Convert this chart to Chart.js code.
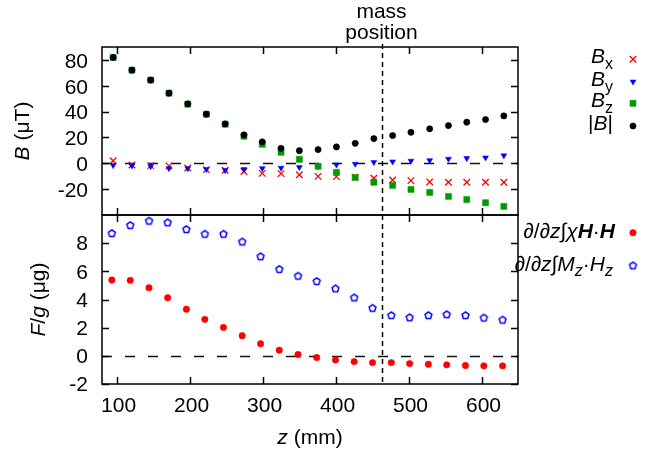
<!DOCTYPE html>
<html><head><meta charset="utf-8">
<script src="https://cdn.jsdelivr.net/npm/chart.js@4"></script>
<style>html,body{margin:0;padding:0;background:#fff;}#wrap{position:relative;width:651px;height:450px;}</style>
</head><body><div id="wrap"><canvas id="c" width="651" height="450"></canvas></div>
<script>
// ---- data ----
const zTop = [95.3, 121, 146.7, 171.8, 197.5, 223, 248.8, 274.5, 299.6, 325.3, 350.4, 376.1, 401.2, 426.9, 452.5, 478.2, 503.3, 529, 554.7, 579.8, 605.5, 630.6];
const Bx   = [2, -1.3, -1.8, -2.0, -3.6, -4.9, -5.4, -6.4, -7.8, -8.0, -8.8, -10.1, -10.3, -10.9, -11.6, -12.9, -13.4, -14.4, -14.7, -14.7, -14.7, -14.7];
const By   = [-1.5, -1.8, -2.3, -3.9, -3.9, -4.6, -5.4, -4.6, -3.9, -3.6, -3.1, -2.2, -1.0, -0.5, 0.8, 1.3, 1.9, 2.3, 3.4, 3.9, 4.4, 6.0];
const Bz   = [81.9, 72.1, 64.4, 54.3, 45.7, 38.0, 30.2, 20.9, 14.7, 8.5, 3.1, -2.3, -7.0, -10.9, -14.7, -17.1, -20.2, -22.5, -25.6, -28.1, -30.5, -33.3];
const Bmag = [81.9, 72.1, 64.4, 54.3, 46.0, 38.0, 30.5, 22.0, 16.6, 11.6, 9.8, 10.6, 12.7, 15.5, 19.1, 21.5, 24.0, 26.7, 29.2, 31.8, 33.9, 36.7];
const zBot = [93.5, 118.7, 144.4, 170, 195.6, 220.9, 246.4, 272.1, 297.3, 322.9, 348.6, 374.2, 399.9, 425.5, 450.7, 476.4, 501.5, 527.2, 552.3, 578, 603.2, 628.9];
const Fchi = [5.38, 5.36, 4.83, 4.12, 3.31, 2.59, 2.02, 1.43, 0.86, 0.40, 0.09, -0.12, -0.29, -0.41, -0.48, -0.48, -0.55, -0.60, -0.64, -0.69, -0.71, -0.71];
const FMH  = [8.69, 9.26, 9.57, 9.45, 8.97, 8.64, 8.64, 8.09, 7.04, 6.14, 5.66, 5.28, 4.76, 4.12, 3.38, 2.86, 2.71, 2.86, 2.93, 2.86, 2.69, 2.54];
const massPosition = 463;
const xTicks = [100, 200, 300, 400, 500, 600];
const yTopTicks = [-20, 0, 20, 40, 60, 80];
const yBotTicks = [-2, 0, 2, 4, 6, 8];
const xRange = [80, 650], yTopRange = [-40, 90], yBotRange = [-2, 10];
const massLabel = ['mass', 'position'];

const FONT = "'Liberation Sans', Arial, Helvetica, sans-serif";
const RED = '#ff0000', BLUE = '#0000ff', GREEN = '#009a00', BLACK = '#000000';

function pentagon(color, r, lw) {
  const s = Math.ceil(2 * r + 2 * lw + 2);
  const c = document.createElement('canvas'); c.width = s; c.height = s;
  const g = c.getContext('2d');
  g.strokeStyle = color; g.lineWidth = lw;
  g.beginPath();
  for (let k = 0; k < 5; k++) {
    const a = -Math.PI / 2 + k * 2 * Math.PI / 5;
    const px = s / 2 + r * Math.cos(a), py = s / 2 + r * Math.sin(a);
    if (k) g.lineTo(px, py); else g.moveTo(px, py);
  }
  g.closePath(); g.stroke();
  return c;
}
const pentImg = pentagon(BLUE, 3.6, 1.5);

const pts = (xs, ys) => xs.map((x, i) => ({x, y: ys[i]}));

const styles = {
  Bx:   {pointStyle: 'crossRot', radius: 4.6, rotation: 0, pointBackgroundColor: RED, pointBorderColor: RED, pointBorderWidth: 1.3},
  By:   {pointStyle: 'triangle', radius: 3.4, rotation: 180, pointBackgroundColor: BLUE, pointBorderColor: BLUE, pointBorderWidth: 0.5},
  Bz:   {pointStyle: 'rect', radius: 4.3, rotation: 0, pointBackgroundColor: GREEN, pointBorderColor: GREEN, pointBorderWidth: 0.5},
  Bmag: {pointStyle: 'circle', radius: 3.1, rotation: 0, pointBackgroundColor: BLACK, pointBorderColor: BLACK, pointBorderWidth: 0.6},
  Fchi: {pointStyle: 'circle', radius: 3.2, rotation: 0, pointBackgroundColor: RED, pointBorderColor: RED, pointBorderWidth: 0.6},
  FMH:  {pointStyle: pentImg, radius: 4, rotation: 0, pointBackgroundColor: BLUE, pointBorderColor: BLUE, pointBorderWidth: 1.5}
};
function ds(label, data, yAxisID, st, order) {
  return {label, data, yAxisID, order, showLine: false,
    pointStyle: st.pointStyle, pointRadius: st.radius, pointRotation: st.rotation,
    pointBackgroundColor: st.pointBackgroundColor, pointBorderColor: st.pointBorderColor,
    pointBorderWidth: st.pointBorderWidth, pointHoverRadius: st.radius};
}

function rich(ctx, segs, x, y, align) {
  const f = s => `${s.i ? 'italic ' : ''}${s.b ? 'bold ' : ''}${s.size || 21}px ${FONT}`;
  let w = 0;
  for (const s of segs) { ctx.font = f(s); s.w = ctx.measureText(s.t).width; w += s.w; }
  let cx = align === 'right' ? x - w : align === 'center' ? x - w / 2 : x;
  ctx.textAlign = 'left'; ctx.textBaseline = 'alphabetic';
  for (const s of segs) { ctx.font = f(s); ctx.fillText(s.t, cx, y + (s.dy || 0)); cx += s.w; }
}

const deco = {
  id: 'deco',
  beforeDatasetsDraw(chart) {
    const ctx = chart.ctx, x = chart.scales.x, yT = chart.scales.yTop, yB = chart.scales.yBot;
    ctx.save();
    ctx.strokeStyle = '#111'; ctx.lineWidth = 1.6;
    ctx.setLineDash([10, 13]);
    for (const ys of [yT, yB]) {
      const py = Math.round(ys.getPixelForValue(0)) + 0.5;
      ctx.beginPath(); ctx.moveTo(x.left, py); ctx.lineTo(x.right, py); ctx.stroke();
    }
    ctx.strokeStyle = '#000'; ctx.lineWidth = 1.5;
    ctx.setLineDash([5, 4]);
    const mx = Math.round(x.getPixelForValue(massPosition)) + 0.5;
    ctx.beginPath(); ctx.moveTo(mx, yT.top - 3); ctx.lineTo(mx, yB.bottom); ctx.stroke();
    ctx.restore();
  },
  afterDatasetsDraw(chart) {
    const ctx = chart.ctx, x = chart.scales.x, yT = chart.scales.yTop, yB = chart.scales.yBot;
    ctx.save();
    ctx.strokeStyle = '#000'; ctx.lineWidth = 1.5; ctx.setLineDash([]);
    const L = x.left, R = x.right, TL = 7;
    ctx.beginPath();
    for (const v of xTicks) {
      const px = Math.round(x.getPixelForValue(v)) + 0.5;
      for (const ys of [yT, yB]) {
        ctx.moveTo(px, ys.top); ctx.lineTo(px, ys.top + TL);
        ctx.moveTo(px, ys.bottom); ctx.lineTo(px, ys.bottom - TL);
      }
    }
    for (const [ys, tv] of [[yT, yTopTicks], [yB, yBotTicks]]) {
      for (const v of tv) {
        const py = Math.round(ys.getPixelForValue(v)) + 0.5;
        ctx.moveTo(L, py); ctx.lineTo(L + TL, py);
        ctx.moveTo(R, py); ctx.lineTo(R - TL, py);
      }
    }
    ctx.stroke();
    for (const ys of [yT, yB]) ctx.strokeRect(L, ys.top, R - L, ys.bottom - ys.top);
    ctx.restore();
  },
  afterDraw(chart) {
    const ctx = chart.ctx, x = chart.scales.x, yT = chart.scales.yTop, yB = chart.scales.yBot;
    ctx.save();
    ctx.fillStyle = '#000';
    const yTc = (yT.top + yT.bottom) / 2, yBc = (yB.top + yB.bottom) / 2;
    ctx.save(); ctx.translate(29, yTc); ctx.rotate(-Math.PI / 2);
    rich(ctx, [{t: 'B', i: 1}, {t: ' (\u03bcT)'}], 0, 0, 'center'); ctx.restore();
    ctx.save(); ctx.translate(45, yBc); ctx.rotate(-Math.PI / 2);
    rich(ctx, [{t: 'F', i: 1}, {t: '/'}, {t: 'g', i: 1}, {t: ' (\u03bcg)'}], 0, 0, 'center'); ctx.restore();
    rich(ctx, [{t: 'z', i: 1}, {t: ' (mm)'}], (x.left + x.right) / 2, 444, 'center');
    const mx = x.getPixelForValue(massPosition);
    rich(ctx, [{t: massLabel[0]}], mx, 18, 'center');
    rich(ctx, [{t: massLabel[1]}], mx, 39, 'center');
    const mkX = 633, txR = 613;
    const helpers = Chart.helpers;
    const legTop = [
      {segs: [{t: 'B', i: 1}, {t: 'x', size: 16, dy: 6}], st: styles.Bx, y: 59.3},
      {segs: [{t: 'B', i: 1}, {t: 'y', size: 16, dy: 6}], st: styles.By, y: 81.7},
      {segs: [{t: 'B', i: 1}, {t: 'z', size: 16, dy: 6}], st: styles.Bz, y: 103.3},
      {segs: [{t: '|'}, {t: 'B', i: 1}, {t: '|'}], st: styles.Bmag, y: 126}
    ];
    const legBot = [
      {segs: [{t: '\u2202/\u2202'}, {t: 'z', i: 1}, {t: '\u222b'}, {t: '\u03c7', i: 1}, {t: 'H', i: 1, b: 1}, {t: '\u00b7'}, {t: 'H', i: 1, b: 1}], st: styles.Fchi, y: 232.7, r: 615},
      {segs: [{t: '\u2202/\u2202'}, {t: 'z', i: 1}, {t: '\u222b'}, {t: 'M', i: 1}, {t: 'z', i: 1, size: 16, dy: 5}, {t: '\u00b7'}, {t: 'H', i: 1}, {t: 'z', i: 1, size: 16, dy: 5}], st: styles.FMH, y: 265.7, r: 613}
    ];
    for (const e of legTop) rich(ctx, e.segs, txR, e.y + 4, 'right');
    for (const e of legBot) rich(ctx, e.segs, e.r, e.y + 5.5, 'right');
    for (const e of legTop.concat(legBot)) {
      ctx.save();
      ctx.fillStyle = e.st.pointBackgroundColor; ctx.strokeStyle = e.st.pointBorderColor;
      ctx.lineWidth = e.st.pointBorderWidth;
      helpers.drawPoint(ctx, {pointStyle: e.st.pointStyle, radius: e.st.radius, rotation: e.st.rotation, borderWidth: e.st.pointBorderWidth}, mkX, e.y);
      ctx.restore();
    }
    ctx.restore();
  }
};

const tickFont = {family: FONT, size: 21};
new Chart(document.getElementById('c'), {
  type: 'scatter',
  data: {
    datasets: [
      ds('Bx', pts(zTop, Bx), 'yTop', styles.Bx, 4),
      ds('By', pts(zTop, By), 'yTop', styles.By, 3),
      ds('Bz', pts(zTop, Bz), 'yTop', styles.Bz, 2),
      ds('|B|', pts(zTop, Bmag), 'yTop', styles.Bmag, 1),
      ds('d/dz int chi H.H', pts(zBot, Fchi), 'yBot', styles.Fchi, 2),
      ds('d/dz int Mz.Hz', pts(zBot, FMH), 'yBot', styles.FMH, 1)
    ]
  },
  options: {
    responsive: false, animation: false, devicePixelRatio: 1, events: [],
    layout: {padding: {left: 0, top: 47, right: 133, bottom: 0}},
    plugins: {legend: {display: false}, tooltip: {enabled: false}, title: {display: false}},
    scales: {
      x: {type: 'linear', position: 'bottom', min: xRange[0], max: xRange[1],
        afterBuildTicks: s => { s.ticks = xTicks.map(v => ({value: v})); },
        afterFit: s => { s.height = 66; },
        grid: {display: false, drawTicks: false}, border: {display: false},
        ticks: {font: tickFont, color: '#000', padding: 10, labelOffset: 2, maxRotation: 0, autoSkip: false}},
      yBot: {type: 'linear', position: 'left', stack: 'panels', stackWeight: 169, min: yBotRange[0], max: yBotRange[1],
        afterBuildTicks: s => { s.ticks = yBotTicks.map(v => ({value: v})); },
        afterFit: s => { s.width = 102; },
        grid: {display: false, drawTicks: false}, border: {display: false},
        ticks: {font: tickFont, color: '#000', padding: 14, labelOffset: 1.5, autoSkip: false}},
      yTop: {type: 'linear', position: 'left', stack: 'panels', stackWeight: 168, min: yTopRange[0], max: yTopRange[1],
        afterBuildTicks: s => { s.ticks = yTopTicks.map(v => ({value: v})); },
        afterFit: s => { s.width = 102; },
        grid: {display: false, drawTicks: false}, border: {display: false},
        ticks: {font: tickFont, color: '#000', padding: 14, labelOffset: 2, autoSkip: false}}
    }
  },
  plugins: [deco]
});
</script></body></html>
